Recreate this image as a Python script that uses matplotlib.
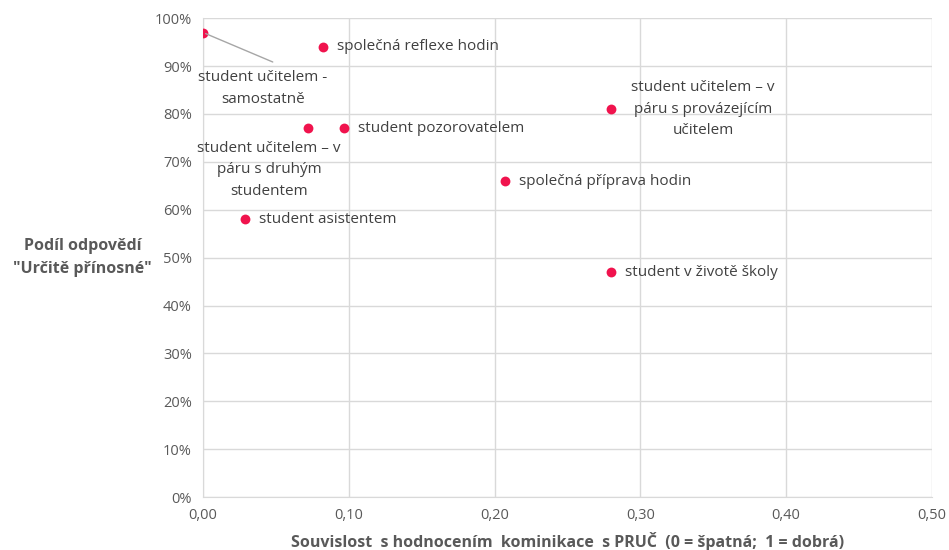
import matplotlib.pyplot as plt
from matplotlib.ticker import FuncFormatter, MultipleLocator

plt.rcParams['font.family'] = ['Open Sans', 'DejaVu Sans']

# data
labels = [
    "student učitelem -\nsamostatně",
    "společná reflexe hodin",
    "student pozorovatelem",
    "student učitelem – v\npáru s druhým\nstudentem",
    "student asistentem",
    "společná příprava hodin",
    "student učitelem – v\npáru s provázejícím\nučitelem",
    "student v životě školy",
]
x_vals = [0.00, 0.082, 0.097, 0.072, 0.029, 0.207, 0.280, 0.280]
y_vals = [0.97, 0.94, 0.77, 0.77, 0.58, 0.66, 0.81, 0.47]

# label offsets in points (dx, dy, ha, va)
offsets = [
    (43, -27, "center", "top"),
    (10, 0, "left", "center"),
    (10, 0, "left", "center"),
    (-28, -9, "center", "top"),
    (10, 0, "left", "center"),
    (10, 0, "left", "center"),
    (66, 0, "center", "center"),
    (10, 0, "left", "center"),
]

fig = plt.figure(figsize=(9.49, 5.5), dpi=100)
ax = fig.add_axes([0.214, 0.096, 0.768, 0.871])

ax.scatter(x_vals, y_vals, s=50, color="#F0134D", zorder=3, linewidths=0)

txt_color = "#404040"
for i, lab in enumerate(labels):
    dx, dy, ha, va = offsets[i]
    ax.annotate(lab, (x_vals[i], y_vals[i]), xytext=(dx, dy),
                textcoords="offset points", ha=ha, va=va,
                fontsize=11, color=txt_color, linespacing=1.6,
                multialignment="center")

# leader line for the first label
ax.annotate("", (x_vals[0], y_vals[0]), xytext=(52, -22),
            textcoords="offset points",
            arrowprops=dict(arrowstyle="-", color="#A6A6A6", lw=1))

ax.set_xlim(0, 0.5)
ax.set_ylim(0, 1.0)
ax.xaxis.set_major_locator(MultipleLocator(0.1))
ax.yaxis.set_major_locator(MultipleLocator(0.1))
ax.xaxis.set_major_formatter(FuncFormatter(lambda v, p: f"{v:.2f}".replace(".", ",")))
ax.yaxis.set_major_formatter(FuncFormatter(lambda v, p: f"{v*100:.0f}%"))

ax.grid(True, color="#D9D9D9", lw=1)
ax.set_axisbelow(True)
for s in ["top", "right"]:
    ax.spines[s].set_visible(False)
for s in ["left", "bottom"]:
    ax.spines[s].set_color("#D9D9D9")
ax.tick_params(length=0, colors="#595959", labelsize=10.5, pad=8)

ax.set_xlabel("Souvislost  s hodnocením  kominikace  s PRUČ  (0 = špatná;  1 = dobrá)",
              fontsize=11.5, fontweight="bold", color="#595959", labelpad=6)
ax.set_ylabel("Podíl odpovědí\n\"Určitě přínosné\"", fontsize=11.5,
              fontweight="bold", color="#595959", rotation=0,
              ha="center", va="center", labelpad=52, linespacing=1.6)

fig.savefig("out.png", dpi=100)
